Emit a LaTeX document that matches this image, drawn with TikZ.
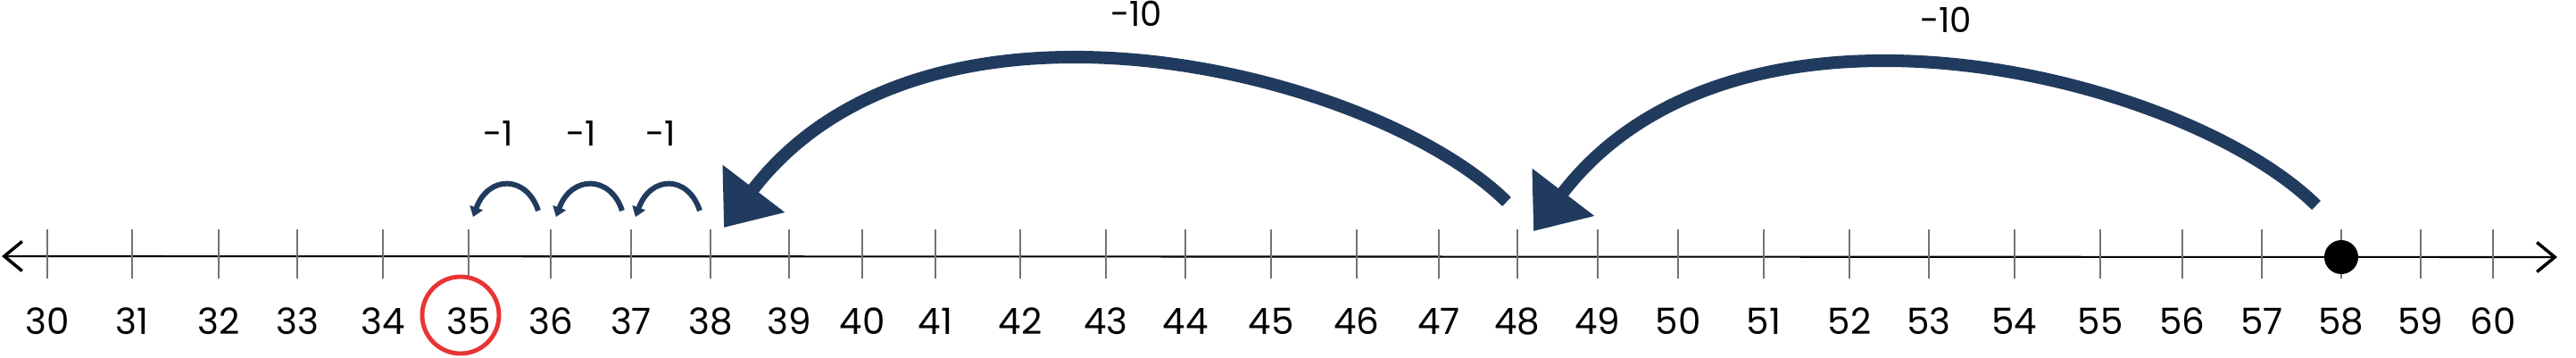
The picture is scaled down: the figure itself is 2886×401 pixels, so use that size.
\documentclass[tikz,border=0pt]{standalone}
\usepackage{fontspec}
\setmainfont{Poppins}
\usetikzlibrary{arrows.meta}
\definecolor{jumpnavy}{RGB}{33,59,94}
\definecolor{ringred}{RGB}{232,52,52}

\begin{document}
\begin{tikzpicture}[
    x=0.01cm, y=-0.01cm,
    axisline/.style={line width=0.6pt, {Straight Barb[length=0.2cm, width=0.33cm, line width=1pt]}-{Straight Barb[length=0.2cm, width=0.33cm, line width=1pt]}},
    tickmark/.style={black!55, line width=0.4pt},
    num/.style={font=\fontsize{11.5}{12}\selectfont, inner sep=0pt},
    bigjump/.style={jumpnavy, line width=4pt, -{Triangle[length=0.55cm, width=0.84cm]}},
    smalljump/.style={jumpnavy, line width=1.7pt, -{Triangle[length=0.11cm, width=0.15cm]}},
    jumplabel/.style={font=\fontsize{11}{12}\selectfont, inner sep=0pt}
]
    \useasboundingbox (0,0) rectangle (2886,401);

    % Number line
    \coordinate (leftend) at (2,287);
    \coordinate (rightend) at (2865,288);
    \draw[axisline] (leftend) -- (rightend);

    % Ticks and numbers
    \foreach \n/\x in {30/53, 31/148, 32/245, 33/333, 34/429, 35/525, 36/617, 37/707,
                       38/796, 39/884, 40/966, 41/1048, 42/1143, 43/1239, 44/1328, 45/1424,
                       46/1520, 47/1612, 48/1700, 49/1790, 50/1880, 51/1976, 52/2072,
                       53/2161, 54/2257, 55/2353, 56/2445, 57/2534, 58/2623, 59/2712, 60/2793}{
        \draw[tickmark] (\x,257) -- (\x,312);
        \node[num] (n\n) at (\x,360) {\n};
    }

    % Answer ring and start dot
    \node[draw=ringred, line width=1.4pt, circle, minimum size=0.86cm, inner sep=0pt] (ring) at (516,353) {};
    \node[circle, fill=black, minimum size=0.38cm, inner sep=0pt] (dot) at (2623,288) {};

    % Jumps of ten
    \coordinate (from58) at (2595,230);
    \coordinate (to48) at (1718,259);
    \coordinate (from48) at (1688,226);
    \coordinate (to38) at (811,255);
    \draw[bigjump] (from58) .. controls +(-148,-146) and +(229,-300) .. (to48);
    \draw[bigjump] (from48) .. controls +(-148,-146) and +(229,-300) .. (to38);
    \node[jumplabel] (tenlab58) at (2180,22) {-10};
    \node[jumplabel] (tenlab48) at (1273,15) {-10};

    % Jumps of one
    \foreach \a/\b/\xs/\xe/\xl in {38/37/784/712/740, 37/36/697/623/651, 36/35/603/530/558}{
        \coordinate (hop\a) at (\xs,236);
        \coordinate (land\b) at (\xe,243);
        \draw[smalljump] (hop\a) .. controls +(-13,-40) and +(17,-47) .. (land\b);
        \node[jumplabel] (hoplab\a) at (\xl,150) {-1};
    }
\end{tikzpicture}
\end{document}
